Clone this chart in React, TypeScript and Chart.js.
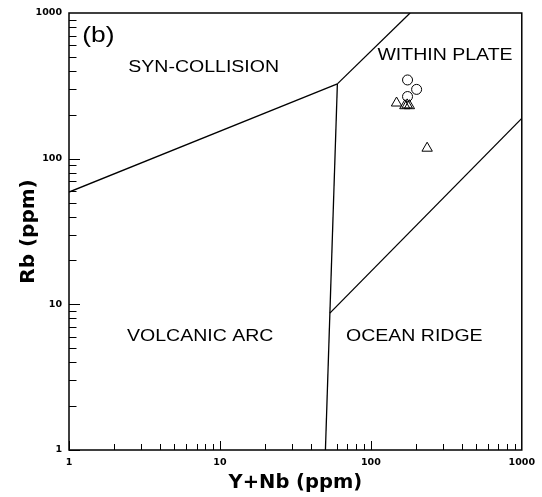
import React, { useEffect, useRef } from 'react';
import { Chart, registerables } from 'chart.js';

Chart.register(...registerables);

// Axis ticks
const xTicks = [1, 10, 100, 1000];
const xTickLabels = ['1', '10', '100', '1000'];
const yTicks = [1, 10, 100, 1000];
const yTickLabels = ['1', '10', '100', '1000'];

// Discrimination boundaries (Y+Nb, Rb)
const synVagX = [1, 60];
const synVagY = [59, 326];
const synWpgX = [60, 182];
const synWpgY = [326, 1000];
const vagOrgX = [60, 50];
const vagOrgY = [326, 1];
const wpgOrgX = [53.5, 1000];
const wpgOrgY = [8.7, 189];

// Samples
const circleX = [175, 201, 175];
const circleY = [347, 299, 267];
const triangleX = [148, 168, 174, 180, 236];
const triangleY = [241, 231, 234, 231, 118];

// Field labels (anchored in data coordinates)
const fieldLabels = ['SYN-COLLISION', 'WITHIN PLATE', 'VOLCANIC ARC', 'OCEAN RIDGE'];
const fieldLabelX = [7.8, 310, 7.4, 194];
const fieldLabelY = [423, 507, 6.0, 6.0];
const panelLabel = '(b)';
const panelLabelX = 1.565;
const panelLabelY = 695;

const toPts = (xs: number[], ys: number[]) => xs.map((x, i) => ({ x, y: ys[i] }));

const overlay = {
  id: 'overlay',
  afterDraw(chart: any) {
    const { ctx, chartArea: a, scales } = chart;
    const xs = scales.x;
    const ys = scales.y;
    ctx.save();
    ctx.strokeStyle = '#000';
    ctx.lineWidth = 1.5;
    ctx.strokeRect(a.left, a.top, a.right - a.left, a.bottom - a.top);
    ctx.lineWidth = 1;
    ctx.beginPath();
    for (const d of [1, 10, 100]) {
      for (let m = 1; m <= 9; m++) {
        const v = d * m;
        const major = m === 1;
        const px = Math.round(xs.getPixelForValue(v)) + 0.5;
        const lx = major ? 9 : 6;
        ctx.moveTo(px, a.bottom);
        ctx.lineTo(px, a.bottom - lx);
        const py = Math.round(ys.getPixelForValue(v)) + 0.5;
        const ly = major ? 11 : 7.5;
        ctx.moveTo(a.left, py);
        ctx.lineTo(a.left + ly, py);
      }
    }
    ctx.stroke();

    ctx.fillStyle = '#000';
    ctx.textAlign = 'center';
    ctx.textBaseline = 'middle';
    const stretched = (text: string, cx: number, cy: number, font: string, sx: number) => {
      ctx.save();
      ctx.translate(cx, cy);
      ctx.scale(sx, 1);
      ctx.font = font;
      ctx.fillText(text, 0, 0);
      ctx.restore();
    };
    fieldLabels.forEach((t, i) => {
      stretched(
        t,
        xs.getPixelForValue(fieldLabelX[i]),
        ys.getPixelForValue(fieldLabelY[i]),
        '16px "Liberation Sans", Arial, sans-serif',
        1.22
      );
    });
    stretched(
      panelLabel,
      xs.getPixelForValue(panelLabelX),
      ys.getPixelForValue(panelLabelY),
      '22px "Liberation Sans", Arial, sans-serif',
      1.2
    );
    ctx.restore();
  },
};

export default function App() {
  const ref = useRef<HTMLCanvasElement | null>(null);

  useEffect(() => {
    if (!ref.current) return;
    const lineDs = (xs: number[], ys: number[]) => ({
      data: toPts(xs, ys),
      showLine: true,
      borderColor: '#000',
      borderWidth: 1.3,
      pointRadius: 0,
      fill: false,
    });
    const chart = new Chart(ref.current, {
      type: 'scatter',
      data: {
        datasets: [
          lineDs(synVagX, synVagY),
          lineDs(synWpgX, synWpgY),
          lineDs(vagOrgX, vagOrgY),
          lineDs(wpgOrgX, wpgOrgY),
          {
            data: toPts(triangleX, triangleY),
            pointStyle: 'triangle',
            pointRadius: 6,
            borderColor: '#000',
            backgroundColor: 'rgba(0,0,0,0)',
            borderWidth: 1,
          } as any,
          {
            data: toPts(circleX, circleY),
            pointStyle: 'circle',
            pointRadius: 5,
            borderColor: '#000',
            backgroundColor: 'rgba(0,0,0,0)',
            borderWidth: 1,
          } as any,
        ],
      },
      options: {
        animation: false,
        responsive: true,
        maintainAspectRatio: false,
        layout: { padding: { left: 0, top: 13, right: 18, bottom: 0 } },
        plugins: { legend: { display: false }, tooltip: { enabled: false } },
        scales: {
          x: {
            type: 'logarithmic',
            min: 1,
            max: 1000,
            grid: { display: false, drawTicks: false },
            border: { display: false },
            afterBuildTicks: (s: any) => {
              s.ticks = xTicks.map((v) => ({ value: v }));
            },
            afterFit: (s: any) => {
              s.height = 47;
            },
            ticks: {
              autoSkip: false,
              maxRotation: 0,
              padding: 7,
              color: '#000',
              font: { family: '"DejaVu Sans", sans-serif', weight: 'bold', size: 9.5 },
              callback: (_v: any, i: number) => xTickLabels[i],
            },
            title: {
              display: true,
              text: 'Y+Nb (ppm)',
              color: '#000',
              font: { family: '"DejaVu Sans", sans-serif', weight: 'bold', size: 19.5 },
              padding: { top: 0, bottom: 2 },
            },
          },
          y: {
            type: 'logarithmic',
            min: 1,
            max: 1000,
            grid: { display: false, drawTicks: false },
            border: { display: false },
            afterBuildTicks: (s: any) => {
              s.ticks = yTicks.map((v) => ({ value: v }));
            },
            afterFit: (s: any) => {
              s.width = 69;
            },
            ticks: {
              autoSkip: false,
              padding: 7,
              color: '#000',
              font: { family: '"DejaVu Sans", sans-serif', weight: 'bold', size: 9.5 },
              callback: (_v: any, i: number) => yTickLabels[i],
            },
            title: {
              display: true,
              text: 'Rb (ppm)',
              color: '#000',
              font: { family: '"DejaVu Sans", sans-serif', weight: 'bold', size: 20 },
              padding: { top: 17, bottom: 0 },
            },
          },
        },
      } as any,
      plugins: [overlay],
    });
    return () => chart.destroy();
  }, []);

  return (
    <div
      style={{
        position: 'fixed',
        left: 0,
        top: 0,
        width: 542,
        height: 497,
        background: '#fff',
      }}
    >
      <canvas ref={ref} />
    </div>
  );
}
